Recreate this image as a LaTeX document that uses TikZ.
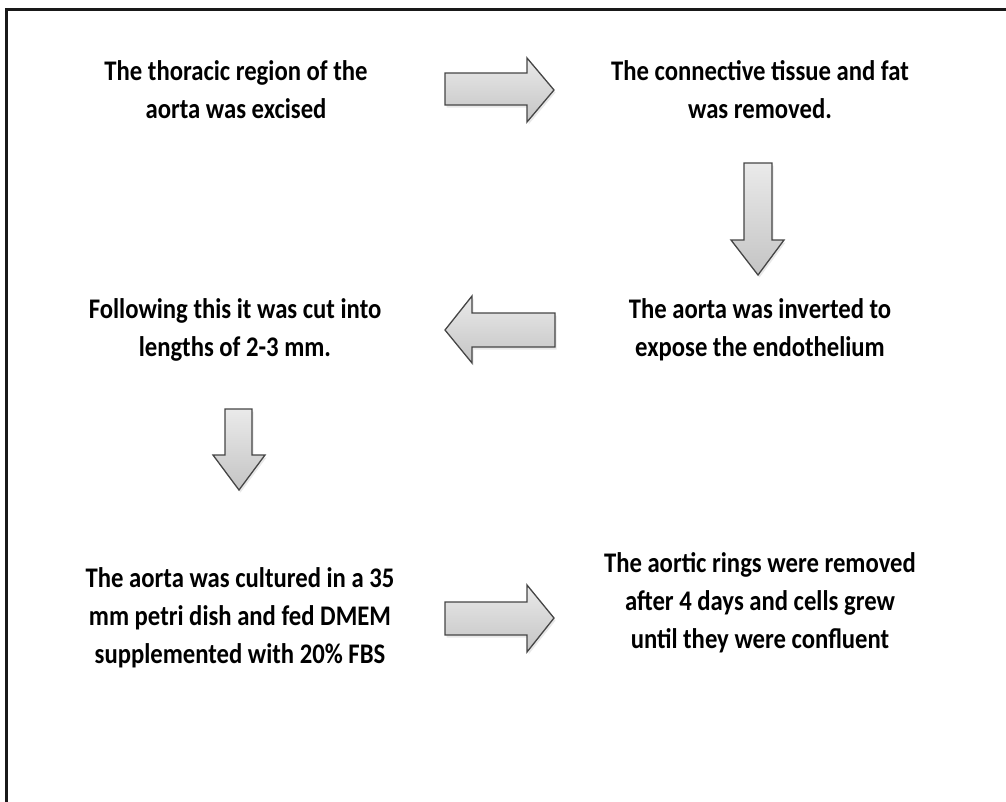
\documentclass[tikz,border=0pt]{standalone}
\usepackage{fontspec}
\setmainfont{Carlito}
\usetikzlibrary{shadows}
\definecolor{arrowline}{HTML}{454545}
\definecolor{arrowtop}{HTML}{EAEAEA}
\definecolor{arrowbot}{HTML}{C4C4C4}
\tikzset{
  stepbox/.style={font=\fontsize{24.7}{33}\selectfont\bfseries, align=center, inner sep=0pt, yscale=1.15},
  blockarrow/.style={draw=arrowline, line width=1.3pt, line join=miter,
    top color=arrowtop, bottom color=arrowbot,
    drop shadow={opacity=0.18, shadow xshift=1.5pt, shadow yshift=-2.5pt}},
}
\begin{document}
\begin{tikzpicture}[x=1pt, y=-1pt]
  \useasboundingbox (0,0) rectangle (1006,801);
  \clip (0,0) rectangle (1006,801);

  % page frame (only the left and top edges fall inside the page)
  \draw[line width=2.2pt, color=black!90] (6.5,830) -- (6.5,9.5) -- (1030,9.5);

  % process steps
  \node[stepbox] (s1) at (236,89.5) {The thoracic region of the\\aorta was excised};
  \node[stepbox] (s2) at (760,89.5) {The connective tissue and fat\\was removed.};
  \node[stepbox] (s3) at (760,330) {The aorta was inverted to\\expose the endothelium};
  \node[stepbox] (s4) at (235,330) {Following this it was cut into\\lengths of 2-3 mm.};
  \node[stepbox] (s5) at (240,618) {The aorta was cultured in a 35\\mm petri dish and fed DMEM\\supplemented with 20\% FBS};
  \node[stepbox] (s6) at (760,603) {The aortic rings were removed\\after 4 days and cells grew\\until they were confluent};

  % block arrows between the steps
  \path[blockarrow] (445,73) -- (527,73) -- (527,58) -- (554,90) -- (527,122) -- (527,105) -- (445,105) -- cycle;
  \path[blockarrow] (744,163) -- (772,163) -- (772,240) -- (784,240) -- (758,275) -- (731,240) -- (744,240) -- cycle;
  \path[blockarrow] (555,313) -- (472,313) -- (472,296) -- (445,330) -- (472,363) -- (472,347) -- (555,347) -- cycle;
  \path[blockarrow] (225,409) -- (252,409) -- (252,455) -- (265,455) -- (239,490) -- (213,455) -- (225,455) -- cycle;
  \path[blockarrow] (445,602) -- (527,602) -- (527,585) -- (554,618) -- (527,652) -- (527,635) -- (445,635) -- cycle;
\end{tikzpicture}
\end{document}
